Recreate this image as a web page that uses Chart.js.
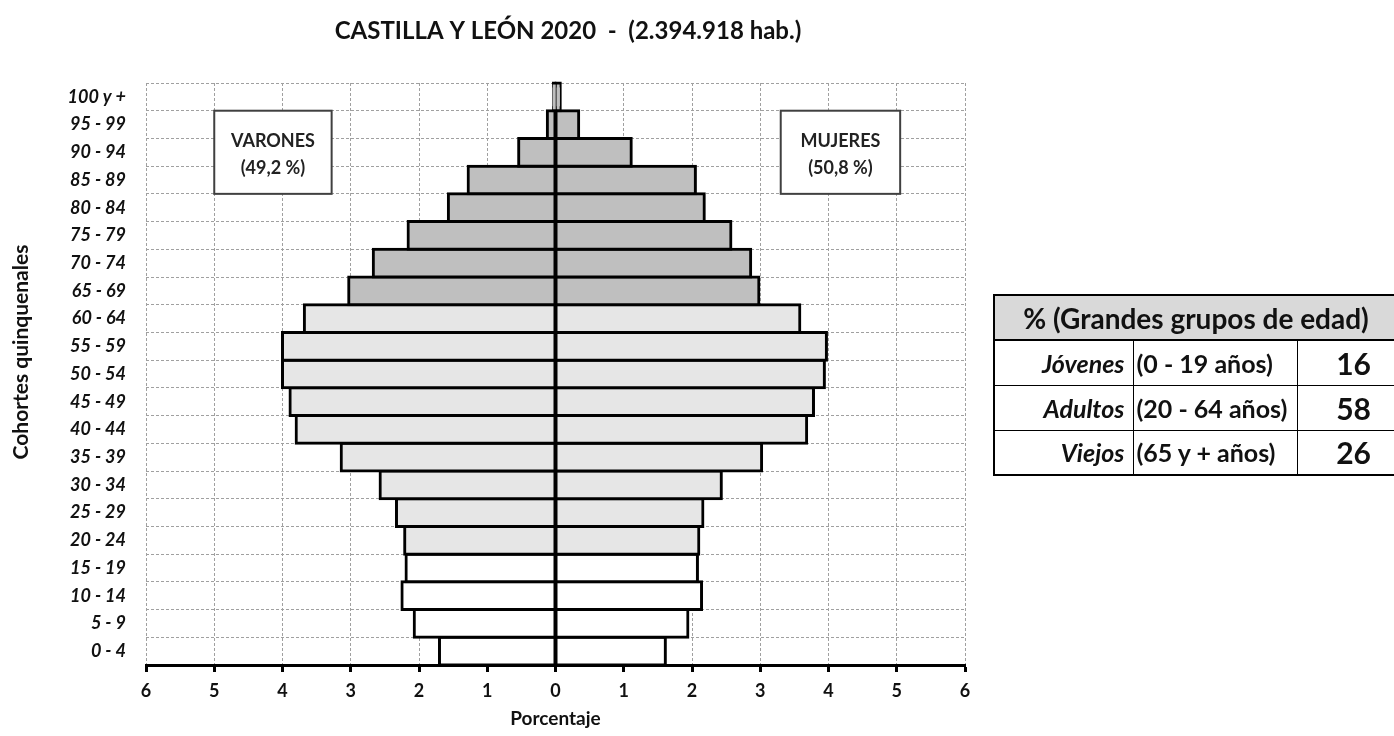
<!DOCTYPE html>
<html lang="es">
<head>
<meta charset="utf-8">
<title>Castilla y León 2020</title>
<script src="https://cdn.jsdelivr.net/npm/chart.js@4.4.1/dist/chart.umd.min.js"></script>
<style>
  html, body { margin: 0; padding: 0; background: #fff; }
  .wrap { position: relative; width: 1394px; height: 736px; overflow: hidden; }
  .wrap canvas { position: absolute; left: 0; top: 0; }
  .grupos {
    position: absolute; left: 993px; top: 294px; width: 406px;
    border-collapse: collapse; font-family: Lato, sans-serif; color: #111;
    border: 2px solid #000;
  }
  .grupos td, .grupos th { border: 1px solid #000; padding: 0; box-sizing: border-box; }
  .grupos th { background: #d9d9d9; font-size: 28px; font-weight: bold; height: 45px; border-bottom: 2px solid #000; }
  .grupos td { font-size: 25px; font-weight: bold; height: 45px; }
  .grupos td.nom { width: 139px; text-align: right; font-style: italic; padding-right: 8px; }
  .grupos td.rango { width: 164px; text-align: left; padding-left: 3px; white-space: nowrap; }
  .grupos td.pct { text-align: right; padding-right: 26px; font-size: 30px; }
</style>
</head>
<body>
<div class="wrap">
  <canvas id="piramide" width="1394" height="736"></canvas>
  <table class="grupos" id="grupos"></table>
</div>
<script>
// cohortes quinquenales, de abajo arriba
const cohortes = ['0 - 4', '5 - 9', '10 - 14', '15 - 19', '20 - 24', '25 - 29', '30 - 34',
  '35 - 39', '40 - 44', '45 - 49', '50 - 54', '55 - 59', '60 - 64', '65 - 69', '70 - 74',
  '75 - 79', '80 - 84', '85 - 89', '90 - 94', '95 - 99', '100 y +'];
// % de la población total
const varones = [1.70, 2.07, 2.25, 2.19, 2.21, 2.33, 2.57, 3.14, 3.80, 3.89, 4.00,
  4.00, 3.68, 3.03, 2.67, 2.16, 1.57, 1.28, 0.54, 0.12, 0.03];
const mujeres = [1.61, 1.94, 2.14, 2.08, 2.10, 2.16, 2.43, 3.02, 3.68, 3.78, 3.94,
  3.97, 3.58, 2.98, 2.86, 2.57, 2.18, 2.05, 1.11, 0.34, 0.07];
const xTicks = [-6, -5, -4, -3, -2, -1, 0, 1, 2, 3, 4, 5, 6];

const grupos = ['Jóvenes', 'Adultos', 'Viejos'];
const rangos = ['(0 - 19 años)', '(20 - 64 años)', '(65 y + años)'];
const porcentajes = [16, 58, 26];

// tabla de grandes grupos
let html = '<tr><th colspan="3">% (Grandes grupos de edad)</th></tr>';
grupos.forEach((g, i) => {
  html += '<tr><td class="nom">' + g + '</td><td class="rango">' + rangos[i] +
    '</td><td class="pct">' + porcentajes[i] + '</td></tr>';
});
document.getElementById('grupos').innerHTML = html;

Chart.defaults.font.family = 'Lato';
Chart.defaults.color = '#111';

const relleno = cohortes.map((c, i) => i < 4 ? '#ffffff' : (i < 13 ? '#e6e6e6' : '#bfbfbf'));

const barra = {
  backgroundColor: relleno,
  borderColor: '#000',
  borderWidth: 3,
  borderSkipped: false,
  inflateAmount: 1.5,
  barPercentage: 1,
  categoryPercentage: 1,
  clip: false
};

const textos = {
  id: 'textos',
  afterDraw(chart) {
    const { ctx, scales: { x, y } } = chart;
    ctx.save();
    ctx.fillStyle = '#111';
    ctx.textAlign = 'center';
    ctx.textBaseline = 'middle';
    ctx.font = 'bold 24px Lato';
    ctx.fillText('CASTILLA Y LEÓN 2020  -  (2.394.918 hab.)', 568, 31);

    ctx.save();
    ctx.translate(21, 352);
    ctx.rotate(-Math.PI / 2);
    ctx.font = 'bold 21px Lato';
    ctx.fillText('Cohortes quinquenales', 0, 0);
    ctx.restore();

    const half = (y.getPixelForValue(0) - y.getPixelForValue(1)) / 2;
    const top = y.getPixelForValue(19) - half;
    const bottom = y.getPixelForValue(17) + half;
    const cajas = [
      { x0: -5, x1: -3.28, t: ['VARONES', '(49,2 %)'] },
      { x0: 3.3, x1: 5.05, t: ['MUJERES', '(50,8 %)'] }
    ];
    cajas.forEach(c => {
      const l = x.getPixelForValue(c.x0), r = x.getPixelForValue(c.x1);
      ctx.fillStyle = '#fff';
      ctx.fillRect(l, top, r - l, bottom - top);
      ctx.lineWidth = 2;
      ctx.strokeStyle = '#404040';
      ctx.strokeRect(l, top, r - l, bottom - top);
      ctx.fillStyle = '#222';
      ctx.font = 'bold 18px Lato';
      ctx.fillText(c.t[0], (l + r) / 2, top + 30);
      ctx.fillText(c.t[1], (l + r) / 2, top + 57);
    });
    ctx.restore();
  }
};

new Chart(document.getElementById('piramide'), {
  type: 'bar',
  data: {
    labels: cohortes,
    datasets: [
      Object.assign({ label: 'Varones', data: varones.map(v => -v) }, barra),
      Object.assign({ label: 'Mujeres', data: mujeres }, barra)
    ]
  },
  options: {
    responsive: false,
    animation: false,
    indexAxis: 'y',
    layout: { padding: { top: 83, right: 429, left: 0, bottom: 0 } },
    plugins: {
      legend: { display: false },
      title: { display: false },
      tooltip: { enabled: false }
    },
    scales: {
      x: {
        type: 'linear',
        stacked: true,
        min: -6,
        max: 6,
        afterBuildTicks: s => { s.ticks = xTicks.map(v => ({ value: v })); },
        ticks: {
          callback: v => Math.abs(v),
          font: { size: 18, weight: 'bold' },
          padding: 8,
          maxRotation: 0
        },
        grid: { color: '#a0a0a0', lineWidth: 1, tickColor: '#000', tickWidth: 3, tickLength: 7 },
        border: { display: true, color: '#000', width: 3, dash: [3, 2] },
        title: {
          display: true,
          text: 'Porcentaje',
          font: { size: 19, weight: 'bold' },
          padding: { top: 0, bottom: 6 }
        },
        afterFit: s => { s.height = 71; }
      },
      y: {
        type: 'category',
        stacked: true,
        reverse: true,
        ticks: {
          font: { size: 18, weight: 'bold', style: 'italic' },
          padding: 20,
          autoSkip: false
        },
        grid: { color: '#a0a0a0', lineWidth: 1, drawTicks: false, offset: true },
        border: { display: false, dash: [3, 2] },
        afterFit: s => { s.width = 146; }
      }
    }
  },
  plugins: [textos]
});
</script>
</body>
</html>
